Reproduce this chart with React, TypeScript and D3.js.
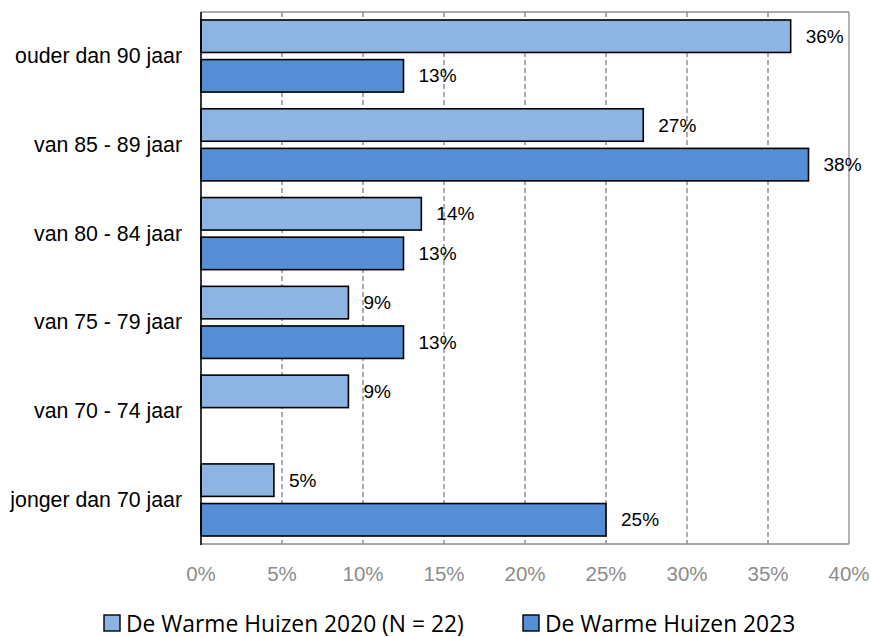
import React from "react";
import * as d3 from "d3";

const categories = [
  "ouder dan 90 jaar",
  "van 85 - 89 jaar",
  "van 80 - 84 jaar",
  "van 75 - 79 jaar",
  "van 70 - 74 jaar",
  "jonger dan 70 jaar",
];
const seriesNames = ["De Warme Huizen 2020 (N = 22)", "De Warme Huizen 2023"];
const values2020 = [36.4, 27.3, 13.6, 9.1, 9.1, 4.5];
const values2023 = [12.5, 37.5, 12.5, 12.5, 0, 25];
const labels2020 = ["36%", "27%", "14%", "9%", "9%", "5%"];
const labels2023 = ["13%", "38%", "13%", "13%", "", "25%"];
const xTicks = [0, 5, 10, 15, 20, 25, 30, 35, 40];
const colors = ["#8EB4E3", "#558ED5"];

const W = 871;
const H = 637;
const left = 201;
const right = 849;
const top = 12;
const bottom = 544;

export default function App() {
  const x = d3.scaleLinear().domain([0, 40]).range([left, right]);
  const y0 = d3
    .scaleBand<string>()
    .domain(categories)
    .range([top, bottom])
    .paddingInner(0.188)
    .paddingOuter(0.09);
  const y1 = d3
    .scaleBand<string>()
    .domain(seriesNames)
    .range([0, y0.bandwidth()])
    .paddingInner(0.18);

  const series = [
    { name: seriesNames[0], vals: values2020, labels: labels2020, color: colors[0] },
    { name: seriesNames[1], vals: values2023, labels: labels2023, color: colors[1] },
  ];

  const font = "'Liberation Sans', Arial, sans-serif";
  const legendX = [104, 523];

  return (
    <svg
      width={W}
      height={H}
      style={{ position: "absolute", left: 0, top: 0, background: "#fff" }}
    >
      {xTicks.slice(1, -1).map((t) => (
        <line
          key={"g" + t}
          x1={x(t)}
          x2={x(t)}
          y1={top}
          y2={bottom}
          stroke="#7f7f7f"
          strokeWidth={1.3}
          strokeDasharray="5,3"
        />
      ))}
      <line x1={left} x2={right} y1={top} y2={top} stroke="#8c8c8c" strokeWidth={1.3} />
      <line x1={right} x2={right} y1={top} y2={bottom} stroke="#8c8c8c" strokeWidth={1.3} />
      <line x1={left} x2={right} y1={bottom} y2={bottom} stroke="#8c8c8c" strokeWidth={1.3} />
      {xTicks.map((t) => (
        <text
          key={"t" + t}
          x={x(t)}
          y={573}
          textAnchor="middle"
          dominantBaseline="central"
          fontFamily={font}
          fontSize={20.5}
          fill="#8c8c8c"
        >
          {t + "%"}
        </text>
      ))}
      {series.map((s) =>
        categories.map((c, i) => {
          const v = s.vals[i];
          const yy = (y0(c) as number) + (y1(s.name) as number);
          const h = y1.bandwidth();
          return (
            <g key={s.name + c}>
              {v > 0 && (
                <rect
                  x={x(0)}
                  y={yy}
                  width={x(v) - x(0)}
                  height={h}
                  fill={s.color}
                  stroke="#000"
                  strokeWidth={1.6}
                />
              )}
              {s.labels[i] && (
                <text
                  x={x(v) + 15}
                  y={yy + h / 2}
                  dominantBaseline="central"
                  fontFamily={font}
                  fontSize={19}
                  fill="#000"
                >
                  {s.labels[i]}
                </text>
              )}
            </g>
          );
        })
      )}
      <line x1={left} x2={left} y1={top} y2={bottom + 1} stroke="#000" strokeWidth={1.6} />
      {categories.map((c) => (
        <text
          key={"c" + c}
          x={182}
          y={(y0(c) as number) + y0.bandwidth() / 2}
          textAnchor="end"
          dominantBaseline="central"
          fontFamily={font}
          fontSize={21.3}
          fill="#000"
        >
          {c}
        </text>
      ))}
      {series.map((s, i) => {
        const lx = legendX[i];
        return (
          <g key={"l" + i}>
            <rect
              x={lx}
              y={615}
              width={16}
              height={16}
              fill={s.color}
              stroke="#000"
              strokeWidth={1.4}
            />
            <text
              x={lx + 22}
              y={623}
              dominantBaseline="central"
              fontFamily="'Open Sans', sans-serif"
              fontSize={22.8}
              fill="#000"
            >
              {s.name}
            </text>
          </g>
        );
      })}
    </svg>
  );
}
